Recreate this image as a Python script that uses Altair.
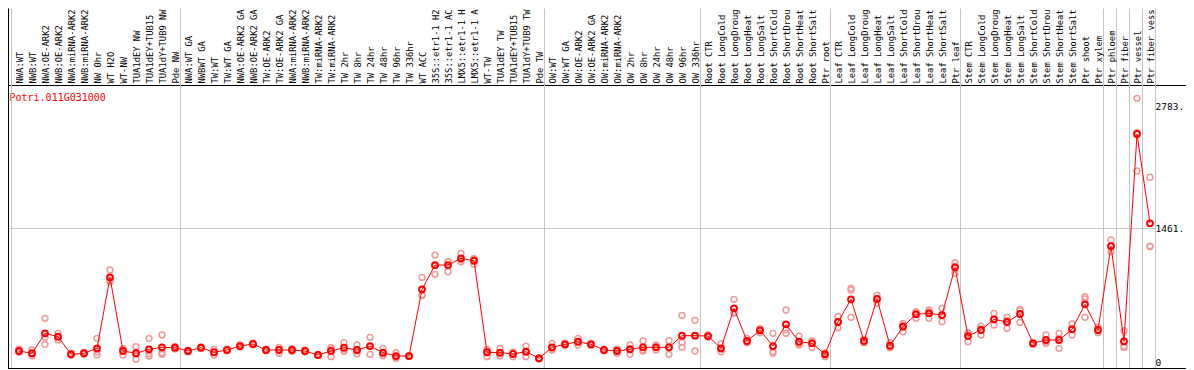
import json
import altair as alt
import pandas as pd

gene = "Potri.011G031000"

# column labels as they can be read in the reference (long ones are cut there)
names = [
    "NWA:WT", "NWB:WT", "NWA:OE-ARK2", "NWB:OE-ARK2", "NWA:miRNA-ARK2", "NWB:miRNA-ARK2",
    "NW 0hr", "WT H2O", "WT-NW", "TUA1dEY NW", "TUA1dEY+TUB15", "TUA1dY+TUB9 NW", "Pde NW",
    "NWA:WT GA", "NWBWT GA", "TW:WT", "TW:WT GA", "NWA:OE-ARK2 GA", "NWB:OE-ARK2 GA",
    "TW:OE-ARK2", "TW:OE-ARK2 GA", "NWA:miRNA-ARK2", "NWB:miRNA-ARK2", "TW:miRNA-ARK2",
    "TW:miRNA-ARK2", "TW 2hr", "TW 8hr", "TW 24hr", "TW 48hr", "TW 96hr", "TW 336hr",
    "WT ACC", "35S::etr1-1 H2", "35S::etr1-1 AC", "LMX5::etr1-1 H", "LMX5::etr1-1 A",
    "WT-TW", "TUA1dEY TW", "TUA1dEY+TUB15", "TUA1dY+TUB9 TW", "Pde TW",
    "OW:WT", "OW:WT GA", "OW:OE-ARK2", "OW:OE-ARK2 GA", "OW:miRNA-ARK2", "OW:miRNA-ARK2",
    "OW 2hr", "OW 8hr", "OW 24hr", "OW 48hr", "OW 96hr", "OW 336hr",
    "Root CTR", "Root LongCold", "Root LongDroug", "Root LongHeat", "Root LongSalt",
    "Root ShortCold", "Root ShortDrou", "Root ShortHeat", "Root ShortSalt", "Ptr root",
    "Leaf CTR", "Leaf LongCold", "Leaf LongDroug", "Leaf LongHeat", "Leaf LongSalt",
    "Leaf ShortCold", "Leaf ShortDrou", "Leaf ShortHeat", "Leaf ShortSalt", "Ptr leaf",
    "Stem CTR", "Stem LongCold", "Stem LongDroug", "Stem LongHeat", "Stem LongSalt",
    "Stem ShortCold", "Stem ShortDrou", "Stem ShortHeat", "Stem ShortSalt", "Ptr shoot",
    "Ptr xylem", "Ptr phloem", "Ptr fiber", "Ptr vessel", "Ptr fiber vess",
]

means = [
    120, 95, 313, 276, 84, 95, 149, 923, 120, 95, 138, 160, 156,
    120, 156, 106, 131, 174, 196, 131, 131, 131, 120, 76, 120, 156, 131, 174, 102, 65, 65,
    792, 1057, 1057, 1130, 1104, 106, 102, 87, 113, 40,
    160, 193, 221, 193, 131, 120, 138, 160, 160, 160, 287, 287,
    283, 149, 585, 229, 345, 174, 411, 221, 204, 84,
    436, 683, 229, 687, 178, 385, 520, 531, 512, 1032,
    283, 349, 465, 436, 523, 204, 240, 240, 356, 629, 349,
    1264, 225, 2486, 1512,
]

rep_a = [
    140, 131, 476, 313, 95, 105, 258, 1003, 145, 167, 258, 294, 170,
    130, 165, 138, 140, 185, 205, 140, 160, 145, 130, 82, 160, 210, 185, 269, 149, 102, 70,
    923, 1166, 1093, 1185, 1130, 138, 149, 106, 174, 45,
    203, 205, 258, 205, 140, 140, 185, 229, 185, 233, 509, 454,
    295, 196, 683, 258, 367, 313, 567, 283, 230, 102,
    494, 803, 250, 730, 210, 422, 548, 567, 585, 1083,
    320, 392, 531, 487, 574, 215, 294, 313, 414, 712, 378,
    1330, 342, 2875, 2014,
]
rep_b = [
    105, 88, 270, 276, 80, 90, 112, 890, 140, 90, 91, 100, 156,
    120, 156, 106, 131, 174, 196, 131, 138, 131, 120, 76, 142, 140, 120, 170, 90, 53, 65,
    730, 1050, 1093, 1112, 1117, 122, 92, 97, 107, 40,
    146, 193, 221, 193, 131, 125, 145, 131, 164, 163, 214, 287,
    283, 140, 541, 219, 348, 114, 353, 196, 222, 92,
    440, 785, 228, 690, 170, 403, 536, 550, 511, 1046,
    308, 361, 461, 454, 563, 204, 222, 258, 360, 688, 349,
    1259, 174, 2500, 1264,
]
rep_c = [
    118, 69, 193, 240, 76, 88, 77, 875, 76, 29, 65, 84, 142,
    110, 147, 76, 122, 163, 187, 122, 95, 117, 110, 70, 58, 118, 88, 84, 67, 40, 60,
    723, 956, 984, 1093, 1065, 58, 65, 58, 58, 35,
    131, 181, 185, 181, 122, 95, 84, 120, 131, 84, 160, 120,
    271, 111, 531, 210, 320, 95, 313, 185, 160, 58,
    374, 487, 210, 640, 155, 330, 476, 476, 440, 967,
    221, 294, 403, 367, 432, 193, 204, 149, 294, 487, 320,
    1203, 159, 2083, 1258,
]

# column boundaries (index of the first column after each grey separator)
group_bounds = [0, 13, 41, 53, 63, 73, 84, 85, 86, 87, 88]

y_ticks = [0, 1461, 2783]
y_tick_labels = ["0", "1461.", "2783."]

# ---------------------------------------------------------------- layout
N = len(names)
W, H = 1178, 284
X_DOMAIN = [-11 / 13, (W - 11) / 13]
Y_DOMAIN = [-76.3, 3020.2]
BOUND_SHIFT = 8 / 13
xs = alt.Scale(domain=X_DOMAIN, nice=False, zero=False)
ys = alt.Scale(domain=Y_DOMAIN, nice=False, zero=False)

FONT = "DejaVu Sans Mono"
GRID = "#c4c4c4"
RED = "#ff0000"
PINK = "#f09a9a"

Y_AXIS_OFFSET = -31

df_mean = pd.DataFrame({"idx": list(range(N)), "name": names, "mean": means})
df_rep = pd.DataFrame({
    "idx": list(range(N)) * 3,
    "value": rep_a + rep_b + rep_c,
})
df_bounds = pd.DataFrame({"k": group_bounds})
sep_values = [X_DOMAIN[0]] + [k - BOUND_SHIFT for k in group_bounds]

y_axis = alt.Axis(
    orient="right", offset=Y_AXIS_OFFSET, values=y_ticks,
    labelExpr=json.dumps(y_tick_labels) + "[indexof(" + json.dumps(y_ticks) + ", datum.value)]",
    ticks=False, domain=False, grid=False, labelPadding=0,
    labelFont=FONT, labelFontSize=9.5, labelColor="black",
    labelAlign="left", labelBaseline="middle",
    title=gene, titleX=1 - (W + Y_AXIS_OFFSET), titleY=12, titleAngle=0, titleAlign="left",
    titleBaseline="middle", titleColor=RED, titleFont=FONT, titleFontSize=10,
    titleFontWeight="normal",
)

x_label_axis = alt.Axis(
    orient="top", values=list(range(N)),
    labelExpr=json.dumps(names) + "[round(datum.value)]",
    labelAngle=270, labelAlign="left", labelBaseline="middle",
    labelPadding=2, labelOverlap=False, labelFlush=False, labelBound=False,
    labelLimit=0, labelFont=FONT, labelFontSize=8.8, labelColor="black",
    ticks=False, tickSize=0, grid=False, domain=True, domainColor="black",
    domainWidth=1, title=None,
)

sep_axis = alt.Axis(
    orient="top", values=sep_values, labels=False, domain=False, grid=False,
    ticks=True, tickSize=77, tickWidth=1,
    tickColor={"condition": {"test": "datum.value < -0.7", "value": "black"}, "value": GRID},
    title=None,
)

separators = alt.Chart(df_bounds).transform_calculate(
    pos=f"datum.k - {BOUND_SHIFT}"
).mark_rule(color=GRID, strokeWidth=1, xOffset=0.5).encode(
    x=alt.X("pos:Q", scale=xs, axis=sep_axis)
)

left_border = alt.Chart(pd.DataFrame({"u": [X_DOMAIN[0]]})).mark_rule(
    color="black", strokeWidth=1, xOffset=0.5
).encode(x=alt.X("u:Q", scale=xs, axis=None))

bottom_border = alt.Chart(pd.DataFrame({"v": [Y_DOMAIN[0]]})).mark_rule(
    color="black", strokeWidth=1, yOffset=-0.5
).encode(y=alt.Y("v:Q", scale=ys, axis=y_axis))

grid_line = alt.Chart(pd.DataFrame({
    "v": [y_ticks[1]],
    "x0": [X_DOMAIN[0]],
    "x1": [group_bounds[-1] - BOUND_SHIFT],
})).mark_rule(color=GRID, strokeWidth=1, yOffset=0.5).encode(
    y=alt.Y("v:Q", scale=ys, axis=y_axis),
    x=alt.X("x0:Q", scale=xs, axis=None),
    x2="x1:Q",
)

reps = alt.Chart(df_rep).mark_point(
    shape="circle", filled=False, color=PINK, size=34, strokeWidth=1.5, opacity=1
).encode(
    x=alt.X("idx:Q", scale=xs, axis=None),
    y=alt.Y("value:Q", scale=ys, axis=y_axis),
)

line = alt.Chart(df_mean).mark_line(color=RED, strokeWidth=1).encode(
    x=alt.X("idx:Q", scale=xs, axis=None),
    y=alt.Y("mean:Q", scale=ys, axis=y_axis),
)

mean_pts = alt.Chart(df_mean).mark_point(
    shape="circle", filled=False, color=RED, size=34, strokeWidth=2, opacity=1
).encode(
    x=alt.X("idx:Q", scale=xs, axis=x_label_axis),
    y=alt.Y("mean:Q", scale=ys, axis=y_axis),
)

chart = alt.layer(
    separators, grid_line, left_border, bottom_border, reps, line, mean_pts
).resolve_axis(x="independent").properties(
    width=W, height=H,
    autosize=alt.AutoSizeParams(type="none"),
    padding={"left": 0, "top": 77, "right": 0, "bottom": 1},
    background="white",
).configure_view(stroke=None)

chart.save("out.html", embed_options={"renderer": "svg", "actions": False})
